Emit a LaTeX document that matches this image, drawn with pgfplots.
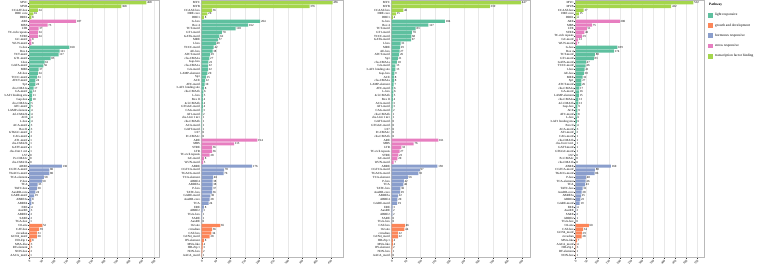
\documentclass[border=0pt]{standalone}
\usepackage{fontspec}
\setmainfont{Liberation Serif}
\usepackage{pgfplots}
\usepackage{pgfplotstable}
\pgfplotsset{compat=1.18}

% Set2-style pathway colours
\definecolor{lightresp}{HTML}{5EC09F}
\definecolor{growthdev}{HTML}{FC8659}
\definecolor{hormresp}{HTML}{8A9ECC}
\definecolor{stressresp}{HTML}{E77EC0}
\definecolor{tfbind}{HTML}{A4D64C}

\newcommand{\lblfont}{\fontsize{3.1}{3.4}\selectfont}
\newcommand{\legfont}{\fontsize{3.5}{4}\selectfont}

\pgfplotsset{
  cispanel/.style={
    xbar, bar shift=0pt, bar width=0.86,
    scale only axis, height=257pt,
    y dir=reverse, ymin=-0.6, ymax=68.6, xmin=0,
    ytick={0,...,68},
    ytick pos=left, xtick pos=bottom,
    axis line style={draw=gray!55, line width=0.45pt},
    tick style={draw=gray!40!black, line width=0.3pt},
    major tick length=1.1pt, tick align=outside,
    xmajorgrids, grid style={gray!18, line width=0.35pt},
    yticklabel style={font=\lblfont, inner sep=0.5pt},
    xticklabel style={font=\lblfont, rotate=45, anchor=north east, inner sep=0.4pt},
    /pgf/number format/assume math mode=true,
    point meta=x, nodes near coords,
    nodes near coords style={font=\lblfont, anchor=west, inner sep=0.6pt, text=black},
    clip=false,
  },
}

% Counts of cis-acting elements, one column per gene set (A-D),
% rows in the plotting order of each panel
\pgfplotstableread{
A B C D
468 456 447 532
368 376 339 432
34 36 40 37
16 20 15 15
8 8 4 4
187 204 184 200
73 162 127 75
37 118 83 51
34 70 70 40
34 62 68 29
8 57 67 12
8 49 31 7
160 42 29 189
121 38 27 174
117 29 26 88
85 27 21 83
61 23 18 47
56 22 13 46
37 22 13 41
34 20 9 38
31 15 8 32
24 12 8 27
24 10 7 26
17 8 6 17
12 6 6 16
11 5 5 15
10 4 4 13
5 4 3 13
5 4 3 9
4 3 2 9
4 2 1 8
4 1 1 6
4 1 0 6
3 1 0 4
3 1 0 3
2 0 0 2
2 0 0 1
1 194 161 1
1 113 76 1
1 36 33 1
1 36 27 1
0 28 23 0
0 8 20 0
0 5 7 0
130 176 158 160
80 78 97 88
80 76 92 86
58 40 56 48
50 38 42 46
33 38 40 43
30 37 30 32
24 36 29 28
19 30 22 25
8 28 20 22
8 24 19 19
4 8 3 4
3 3 2 2
2 1 2 2
2 1 0 1
1 0 0 0
52 65 46 60
39 36 44 34
31 34 22 29
30 28 22 28
8 8 4 7
3 4 4 4
3 3 2 3
2 2 1 1
1 1 0 1
}\cisdata

\begin{document}
\begin{tikzpicture}
\useasboundingbox (0,0) rectangle (764pt,265pt);

% ---- panel 1 ----
\begin{axis}[cispanel, at={(29.3pt,7.5pt)}, width=130pt, xmax=520,
  xtick={0,50,...,500},
  yticklabels={MYC,MYB,CCAAT-box,DRE core,DRE1,
    ARE,MBS,LTR,TC-rich repeats,STRE,GC-motif,WUN-motif,
    G-box,Box 4,TCT-motif,GT1-motif,I-box,GATA-motif,MRE,AE-box,TCCC-motif,ATCT-motif,Sp1,chs-CMA1a,
    GA-motif,3-AF1 binding site,Gap-box,chs-CMA2a,ATC-motif,LAMP-element,4cl-CMA2b,ACE,L-box,ACA-motif,
    Box II,GTGGC-motif,CAG-motif,AT1-motif,chs-CMA2b,GATT-motif,chs-Unit 1 m1,LS7,Pc-CMA2c,chs-CMA1b,
    ABRE,CGTCA-motif,TGACG-motif,TCA-element,P-box,TCA,TATC-box,AuxRR-core,GARE-motif,ABRE3a,ABRE4,
    ERE,AuxRE,ABRE2,SARE,TGA-box,
    O2-site,CAT-box,circadian,GCN4\_motif,HD-Zip 1,MSA-like,RY-element,NON-box,AACA\_motif}]
\addplot[fill=tfbind, draw=none, restrict y to domain=0:4] table[x=A, y expr=\coordindex]{\cisdata};
\addplot[fill=stressresp, draw=none, restrict y to domain=5:11] table[x=A, y expr=\coordindex]{\cisdata};
\addplot[fill=lightresp, draw=none, restrict y to domain=12:43] table[x=A, y expr=\coordindex]{\cisdata};
\addplot[fill=hormresp, draw=none, restrict y to domain=44:59] table[x=A, y expr=\coordindex]{\cisdata};
\addplot[fill=growthdev, draw=none, restrict y to domain=60:68] table[x=A, y expr=\coordindex]{\cisdata};
\end{axis}

% ---- panel 2 ----
\begin{axis}[cispanel, at={(201.7pt,7.5pt)}, width=142pt, xmax=495,
  xtick={0,50,...,450},
  yticklabels={MYC,MYB,CCAAT-box,DRE core,DRE1,
    G-box,Box 4,TCT-motif,GT1-motif,GATA-motif,MRE,I-box,TCCC-motif,AE-box,ATCT-motif,chs-CMA2a,
    Gap-box,chs-CMA1a,GA-motif,LAMP-element,Sp1,ACE,ATC-motif,3-AF1 binding site,chs-CMA1b,L-box,
    Box II,4cl-CMA2b,GTGGC-motif,CAG-motif,AT1-motif,chs-Unit 1 m1,chs-CMA2b,ACA-motif,GATT-motif,LS7,Pc-CMA2c,
    ARE,MBS,STRE,LTR,TC-rich repeats,GC-motif,WUN-motif,
    ABRE,CGTCA-motif,TGACG-motif,TCA-element,ABRE4,ABRE3a,P-box,TATC-box,GARE-motif,AuxRR-core,TCA,
    ERE,ABRE2,TGA-box,SARE,AuxRE,
    O2-site,circadian,CAT-box,GCN4\_motif,RY-element,MSA-like,HD-Zip 1,NON-box,AACA\_motif}]
\addplot[fill=tfbind, draw=none, restrict y to domain=0:4] table[x=B, y expr=\coordindex]{\cisdata};
\addplot[fill=lightresp, draw=none, restrict y to domain=5:36] table[x=B, y expr=\coordindex]{\cisdata};
\addplot[fill=stressresp, draw=none, restrict y to domain=37:43] table[x=B, y expr=\coordindex]{\cisdata};
\addplot[fill=hormresp, draw=none, restrict y to domain=44:59] table[x=B, y expr=\coordindex]{\cisdata};
\addplot[fill=growthdev, draw=none, restrict y to domain=60:68] table[x=B, y expr=\coordindex]{\cisdata};
\end{axis}

% ---- panel 3 ----
\begin{axis}[cispanel, at={(391.7pt,7.5pt)}, width=139pt, xmax=480,
  xtick={0,50,...,450},
  yticklabels={MYC,MYB,CCAAT-box,DRE core,DRE1,
    G-box,Box 4,TCT-motif,GT1-motif,TCCC-motif,GATA-motif,I-box,MRE,AE-box,ATCT-motif,Sp1,chs-CMA1a,
    GA-motif,3-AF1 binding site,Gap-box,ACE,chs-CMA2a,LAMP-element,ATC-motif,L-box,4cl-CMA2b,Box II,
    ACA-motif,AT1-motif,CAG-motif,chs-CMA2b,chs-Unit 1 m1,GATT-motif,GTGGC-motif,LS7,Pc-CMA2c,chs-CMA1b,
    ARE,MBS,LTR,TC-rich repeats,STRE,GC-motif,WUN-motif,
    ABRE,CGTCA-motif,TGACG-motif,TCA-element,P-box,TCA,TATC-box,AuxRR-core,ABRE3a,ABRE4,GARE-motif,
    ERE,AuxRE,ABRE2,SARE,TGA-box,
    CAT-box,O2-site,circadian,GCN4\_motif,HD-Zip 1,MSA-like,RY-element,NON-box,AACA\_motif}]
\addplot[fill=tfbind, draw=none, restrict y to domain=0:4] table[x=C, y expr=\coordindex]{\cisdata};
\addplot[fill=lightresp, draw=none, restrict y to domain=5:36] table[x=C, y expr=\coordindex]{\cisdata};
\addplot[fill=stressresp, draw=none, restrict y to domain=37:43] table[x=C, y expr=\coordindex]{\cisdata};
\addplot[fill=hormresp, draw=none, restrict y to domain=44:59] table[x=C, y expr=\coordindex]{\cisdata};
\addplot[fill=growthdev, draw=none, restrict y to domain=60:68] table[x=C, y expr=\coordindex]{\cisdata};
\end{axis}

% ---- panel 4 with the pathway legend ----
\begin{axis}[cispanel, at={(575.5pt,7.5pt)}, width=128.5pt, xmax=580,
  xtick={0,50,...,550},
  yticklabels={MYC,MYB,CCAAT-box,DRE core,DRE1,
    ARE,MBS,LTR,STRE,TC-rich repeats,GC-motif,WUN-motif,
    G-box,Box 4,TCT-motif,GT1-motif,GATA-motif,TCCC-motif,I-box,AE-box,MRE,Sp1,ATCT-motif,chs-CMA1a,
    GA-motif,LAMP-element,chs-CMA2a,4cl-CMA2b,Gap-box,ACE,ATC-motif,L-box,3-AF1 binding site,Box II,
    ACA-motif,AT1-motif,CAG-motif,chs-CMA2b,chs-Unit 1 m1,GATT-motif,GTGGC-motif,LS7,Pc-CMA2c,chs-CMA1b,
    ABRE,CGTCA-motif,TGACG-motif,P-box,TCA-element,TCA,TATC-box,AuxRR-core,ABRE3a,ABRE4,GARE-motif,
    ERE,AuxRE,SARE,ABRE2,TGA-box,
    O2-site,CAT-box,GCN4\_motif,circadian,MSA-like,AACA\_motif,HD-Zip 1,RY-element,NON-box},
  legend style={at={(1,1)}, anchor=north west, xshift=4pt, yshift=-0.5pt,
    draw=none, fill=none, inner sep=0pt, font=\legfont, row sep=2.3pt,
    cells={anchor=west}},
  legend image code/.code={\fill[#1,draw=none] (0pt,-2.4pt) rectangle (5pt,2.4pt);},
]
\addlegendimage{empty legend}\addlegendentry{\hspace{-6pt}\textbf{Pathway}}
\addlegendimage{fill=lightresp}\addlegendentry{light responsive}
\addlegendimage{fill=growthdev}\addlegendentry{growth and development}
\addlegendimage{fill=hormresp}\addlegendentry{hormones responsive}
\addlegendimage{fill=stressresp}\addlegendentry{stress responsive}
\addlegendimage{fill=tfbind}\addlegendentry{transcription factor binding}
\addplot[forget plot, fill=tfbind, draw=none, restrict y to domain=0:4] table[x=D, y expr=\coordindex]{\cisdata};
\addplot[forget plot, fill=stressresp, draw=none, restrict y to domain=5:11] table[x=D, y expr=\coordindex]{\cisdata};
\addplot[forget plot, fill=lightresp, draw=none, restrict y to domain=12:43] table[x=D, y expr=\coordindex]{\cisdata};
\addplot[forget plot, fill=hormresp, draw=none, restrict y to domain=44:59] table[x=D, y expr=\coordindex]{\cisdata};
\addplot[forget plot, fill=growthdev, draw=none, restrict y to domain=60:68] table[x=D, y expr=\coordindex]{\cisdata};
\end{axis}
\end{tikzpicture}
\end{document}
